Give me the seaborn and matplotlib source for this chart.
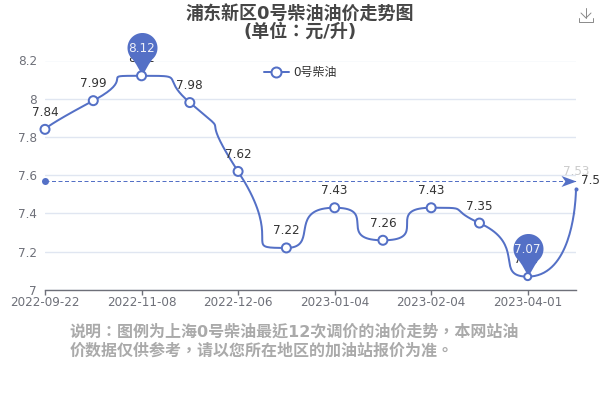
import numpy as np
import seaborn as sns
import matplotlib.pyplot as plt
from matplotlib.lines import Line2D
from matplotlib.path import Path

Prices = [7.84, 7.99, 8.12, 7.98, 7.62, 7.22, 7.43, 7.26, 7.43, 7.35, 7.07, 7.53]
TickPos = [0, 2, 4, 6, 8, 10]
TickLabels = ['2022-09-22', '2022-11-08', '2022-12-06', '2023-01-04', '2023-02-04', '2023-04-01']
YTicks = [7, 7.2, 7.4, 7.6, 7.8, 8, 8.2]
YLabels = ['7', '7.2', '7.4', '7.6', '7.8', '8', '8.2']

Blue = '#5470C6'
PX = 0.72  # one pixel in points at dpi 100

sns.set_theme(style='white')
plt.rcParams['font.family'] = ['DejaVu Sans', 'Noto Sans CJK TC']

x = np.arange(len(Prices))
y = np.array(Prices)
mean = round(float(y.mean()), 2)


def smooth_line(xs, ys, ax, smooth=1.0, steps=40):
    # echarts 5 style bezier, worked out in pixels and put back in data units
    pts = ax.transData.transform(np.column_stack([xs, ys]))
    out = [pts[0]]
    cp0 = pts[0].copy()
    next_cp = None
    t = np.linspace(0, 1, steps)[1:, None]
    for i in range(1, len(pts)):
        p, prev = pts[i], pts[i - 1]
        if i + 1 < len(pts):
            nxt = pts[i + 1]
            prev_len = np.linalg.norm(p - prev)
            next_len = np.linalg.norm(nxt - p)
            ratio = next_len / (next_len + prev_len)
            # keep control points inside the segment on each side
            next_cp = p + (nxt - prev) * smooth * ratio
            next_cp = np.clip(next_cp, np.minimum(nxt, p), np.maximum(nxt, p))
            cp1 = p - (next_cp - p) * prev_len / next_len
            cp1 = np.clip(cp1, np.minimum(prev, p), np.maximum(prev, p))
            next_cp = p + (p - cp1) * next_len / prev_len
        else:
            cp1 = p.copy()
        out.extend((1 - t) ** 3 * prev + 3 * (1 - t) ** 2 * t * cp0 + 3 * (1 - t) * t ** 2 * cp1 + t ** 3 * p)
        cp0 = next_cp
    return ax.transData.inverted().transform(np.array(out))


def pin_marker():
    # tip at the origin, head above it, sizes in pixels
    r, cy = 15.0, 28.5
    ang = np.radians(np.linspace(-50, 230, 40))
    verts = [(r * np.cos(a), cy + r * np.sin(a)) for a in ang]
    codes = [Path.MOVETO] + [Path.LINETO] * (len(verts) - 1)
    verts += [(-2.5, 7), (0, 0), (2.5, 7), verts[0]]
    codes += [Path.CURVE3, Path.CURVE3, Path.CURVE3, Path.CURVE3]
    return Path(verts, codes)


arrow = Path([(0, 0), (-15, -5.5), (-11, 0), (-15, 5.5), (0, 0)],
             [Path.MOVETO, Path.LINETO, Path.LINETO, Path.LINETO, Path.CLOSEPOLY])

fig = plt.figure(figsize=[6, 4], dpi=100)
ax = fig.add_axes([45 / 600, 110 / 400, 531 / 600, 229.5 / 400])
ax.set_xlim(0, 11)
ax.set_ylim(7, 8.2)

ax.set_axisbelow(True)
ax.grid(axis='y', color='#E0E6F1', linewidth=1)
ax.grid(axis='x', visible=False)
for s in ['top', 'left', 'right']:
    ax.spines[s].set_visible(False)
ax.spines['bottom'].set_color('#6E7079')
ax.spines['bottom'].set_linewidth(1)

ax.set_xticks(TickPos)
ax.set_xticklabels(TickLabels)
ax.set_yticks(YTicks)
ax.set_yticklabels(YLabels)
ax.tick_params(axis='x', length=5 * PX, width=1, color='#6E7079', labelcolor='#6E7079',
               labelsize=12 * PX, pad=1.5 * PX, bottom=True)
ax.tick_params(axis='y', length=0, labelcolor='#6E7079', labelsize=12 * PX, pad=8 * PX)

curve = smooth_line(x, y, ax)
sns.lineplot(x=curve[:, 0], y=curve[:, 1], sort=False, estimator=None, color=Blue,
             linewidth=2 * PX, ax=ax, zorder=3, clip_on=False)

# average line
sns.lineplot(x=[x[0], x[-1]], y=[mean, mean], estimator=None, color=Blue, linewidth=1 * PX,
             linestyle=(0, (4, 2.5)), ax=ax, zorder=3, clip_on=False)
sns.scatterplot(x=[x[0]], y=[mean], color=Blue, s=(7 * PX) ** 2, linewidth=0, ax=ax,
                zorder=4, clip_on=False)
sns.scatterplot(x=[x[-1]], y=[mean], color=Blue, marker=arrow, s=(30 * PX) ** 2, linewidth=0,
                ax=ax, zorder=4, clip_on=False)

# points, drawn over the pin tips
sizes = [9] * 10 + [7]
sns.scatterplot(x=x[:-1], y=y[:-1], s=[(d * PX) ** 2 for d in sizes], color='white',
                edgecolor=Blue, linewidth=2 * PX, ax=ax, zorder=7.5, clip_on=False)
sns.scatterplot(x=x[-1:], y=y[-1:], s=(4 * PX) ** 2, color=Blue, linewidth=0, ax=ax,
                zorder=5, clip_on=False)

# value labels
for i, v in enumerate(Prices):
    ax.annotate('{:.2f}'.format(v), (i, v), xytext=(0, 17 * PX), textcoords='offset points',
                ha='center', va='center', fontsize=12 * PX, color='#333333',
                alpha=0.25 if i == len(Prices) - 1 else 1, zorder=6)

ax.annotate('{:.2f}'.format(mean), (x[-1], mean), xytext=(5 * PX, 0), textcoords='offset points',
            ha='left', va='center', fontsize=12 * PX, color='#333333', zorder=6,
            annotation_clip=False)

# max and min pins
peak = [int(y.argmax()), int(y.argmin())]
sns.scatterplot(x=x[peak], y=y[peak], marker=pin_marker(), s=(87 * PX) ** 2, color=Blue,
                linewidth=0, ax=ax, zorder=7, clip_on=False)
for i in peak:
    ax.annotate('{:.2f}'.format(Prices[i]), (i, Prices[i]), xytext=(0, 27 * PX),
                textcoords='offset points', ha='center', va='center', fontsize=12 * PX,
                color='#EEF0F8', zorder=8)

handle = Line2D([], [], color=Blue, linewidth=2 * PX, marker='o', markersize=10 * PX,
                markerfacecolor='white', markeredgecolor=Blue, markeredgewidth=2 * PX)
ax.legend([handle], ['0号柴油'], loc='center', bbox_to_anchor=(300.5 / 600, 327.5 / 400),
          bbox_transform=fig.transFigure, frameon=False, fontsize=12 * PX, labelcolor='#333333',
          handlelength=2.1, handletextpad=0.4, borderpad=0, borderaxespad=0)

fig.text(0.5, 376.5 / 400, '浦东新区0号柴油油价走势图\n(单位：元/升)', ha='center', va='center',
         fontsize=18 * PX, fontweight='bold', color='#464646', linespacing=0.95)
fig.text(69.5 / 600, 68.5 / 400, '说明：图例为上海0号柴油最近12次调价的油价走势，本网站油',
         ha='left', va='center', fontsize=16 * PX, fontweight='bold', color='#AAAAAA')
fig.text(69.5 / 600, 49.5 / 400, '价数据仅供参考，请以您所在地区的加油站报价为准。',
         ha='left', va='center', fontsize=16 * PX, fontweight='bold', color='#AAAAAA')

# download icon
for xs, ys in [([586, 586], [8, 18]), ([581, 586, 591], [13, 18, 13]),
               ([579, 579, 593, 593], [18, 22, 22, 18])]:
    fig.add_artist(Line2D([a / 600 for a in xs], [1 - b / 400 for b in ys], color='#8A8A8A',
                          linewidth=0.7))

plt.savefig('out.png', dpi=100)
